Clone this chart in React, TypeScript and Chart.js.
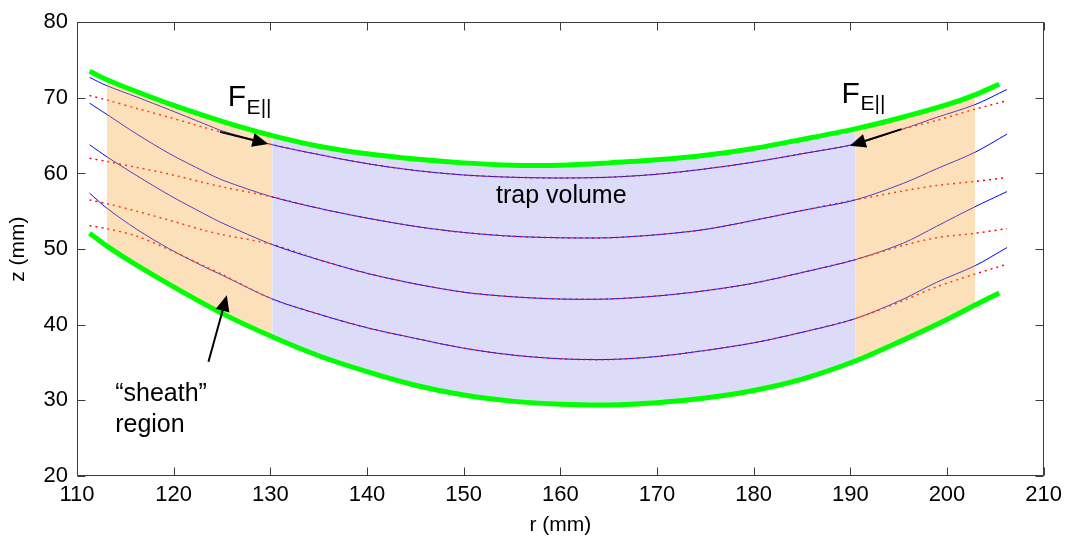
import React, { useEffect, useRef } from "react";
import { Chart, registerables } from "chart.js";

Chart.register(...registerables);

// ---- data (r in mm, z in mm) ----
const greenR = [111.3, 113.1, 116, 120, 125, 130.2, 135, 140, 145, 150, 155, 160, 165, 170, 175, 180, 185, 190.5, 195, 200, 202.9, 205.4];
const upperGreenZ = [73.5, 72.4, 70.9, 69.0, 66.9, 65.0, 63.6, 62.6, 61.9, 61.4, 61.1, 61.1, 61.4, 61.8, 62.4, 63.3, 64.5, 65.9, 67.3, 69.1, 70.4, 71.8];
const lowerGreenZ = [52.1, 50.4, 48.0, 45.0, 41.5, 38.4, 35.9, 33.8, 32.0, 30.7, 29.9, 29.5, 29.4, 29.7, 30.3, 31.3, 32.8, 35.2, 37.7, 40.7, 42.6, 44.2];

const lineR = [111.3, 113.1, 116.2, 119.6, 123.1, 125.1, 130.2, 135, 140, 145, 150, 155, 160, 165, 170, 175, 180, 185, 190.5, 195.5, 198.9, 202.9, 206.2];
const blue1Z = [72.7, 71.6, 70.1, 68.4, 66.6, 65.6, 63.8, 62.5, 61.3, 60.4, 59.8, 59.5, 59.4, 59.5, 59.9, 60.6, 61.5, 62.6, 63.9, 65.9, 67.4, 69.1, 71.1];
const red1Z = [70.3, 69.7, 68.6, 67.4, 66.1, 65.4, 63.8, 62.5, 61.3, 60.4, 59.8, 59.5, 59.4, 59.5, 59.9, 60.6, 61.5, 62.6, 63.9, 65.9, 67.0, 68.5, 69.6];
const blue2Z = [69.3, 67.8, 65.2, 62.6, 60.3, 59.1, 56.9, 55.4, 54.1, 53.0, 52.2, 51.7, 51.5, 51.5, 51.9, 52.6, 53.8, 55.1, 56.5, 58.7, 60.6, 62.8, 65.2];
const red2Z = [62.0, 61.6, 60.8, 59.9, 58.8, 58.2, 56.9, 55.4, 54.1, 53.0, 52.2, 51.7, 51.5, 51.5, 51.9, 52.6, 53.8, 55.1, 56.5, 57.7, 58.4, 58.95, 59.45];
const blue3Z = [63.8, 62.2, 59.7, 57.1, 54.7, 53.4, 50.6, 48.6, 46.8, 45.4, 44.3, 43.7, 43.4, 43.4, 43.8, 44.5, 45.5, 46.9, 48.6, 50.8, 53.0, 55.6, 57.6];
const red3Z = [56.5, 56.0, 55.0, 53.8, 52.5, 51.9, 50.6, 48.6, 46.8, 45.4, 44.3, 43.7, 43.4, 43.4, 43.8, 44.5, 45.5, 46.9, 48.6, 50.5, 51.5, 52.1, 52.7];
const blue4Z = [57.4, 55.4, 52.6, 50.0, 47.7, 46.5, 43.4, 41.4, 39.6, 38.2, 36.9, 36.0, 35.5, 35.4, 35.8, 36.6, 37.6, 39.0, 40.8, 43.4, 45.6, 47.8, 50.2];
const red4Z = [53.1, 52.7, 51.7, 49.9, 47.8, 46.6, 43.4, 41.4, 39.6, 38.2, 36.9, 36.0, 35.5, 35.4, 35.8, 36.6, 37.6, 39.0, 40.8, 43.2, 45.0, 46.7, 48.0];

// region bounds in r (mm)
const sheathLeftRange = [113.1, 130.2];
const trapRange = [130.2, 190.5];
const sheathRightRange = [190.5, 202.9];

// axes
const xMin = 110, xMax = 210, xStep = 10;
const yMin = 20, yMax = 80, yStep = 10;

// ---- styling / annotation placement (not data) ----
const FONT = "'Liberation Sans', Arial, Helvetica, sans-serif";
const ORANGE = "rgba(247, 170, 60, 0.36)";
const LAVENDER = "rgba(80, 80, 220, 0.2)";

const fLabels = [
  { r: 125.6, z: 68.9 },
  { r: 189.1, z: 69.35 },
];
const arrows = [
  { from: [124.8, 65.5], to: [129.8, 63.9] },
  { from: [195.3, 65.86], to: [189.95, 63.67] },
  { from: [123.6, 35.1], to: [125.5, 43.9] },
];
const trapLabel = { r: 160.1, z: 56.05 };
const sheathLabel = { r: 113.95, z1: 29.92, z2: 25.86 };

function pts(r: number[], z: number[]) {
  return r.map((x, i) => ({ x, y: z[i] }));
}
function slice(r: number[], z: number[], range: number[]) {
  return pts(r, z).filter((p) => p.x >= range[0] - 1e-9 && p.x <= range[1] + 1e-9);
}

function drawArrow(ctx: CanvasRenderingContext2D, x0: number, y0: number, x1: number, y1: number) {
  const a = Math.atan2(y1 - y0, x1 - x0);
  const hl = 16, hw = 7;
  const c = Math.cos(a), s = Math.sin(a);
  const bx = x1 - hl * c, by = y1 - hl * s;
  ctx.beginPath();
  ctx.moveTo(x0, y0);
  ctx.lineTo(bx + 2 * c, by + 2 * s);
  ctx.lineWidth = 2;
  ctx.strokeStyle = "#000";
  ctx.stroke();
  ctx.beginPath();
  ctx.moveTo(x1, y1);
  ctx.lineTo(bx + hw * s, by - hw * c);
  ctx.lineTo(bx - hw * s, by + hw * c);
  ctx.closePath();
  ctx.fillStyle = "#000";
  ctx.fill();
}

const annotatePlugin = {
  id: "annotate",
  afterDatasetsDraw(chart: any) {
    const { ctx, scales } = chart;
    const X = (v: number) => scales.x.getPixelForValue(v);
    const Y = (v: number) => scales.y.getPixelForValue(v);
    ctx.save();
    ctx.fillStyle = "#000";
    ctx.textBaseline = "alphabetic";
    for (const f of fLabels) {
      const x = X(f.r), y = Y(f.z);
      ctx.font = `30px ${FONT}`;
      ctx.textAlign = "left";
      ctx.fillText("F", x, y);
      const w = ctx.measureText("F").width;
      ctx.font = `21px ${FONT}`;
      ctx.fillText("E||", x + w + 0.5, y + 7.5);
    }
    for (const a of arrows) {
      drawArrow(ctx, X(a.from[0]), Y(a.from[1]), X(a.to[0]), Y(a.to[1]));
    }
    ctx.font = `25px ${FONT}`;
    ctx.textAlign = "center";
    ctx.fillText("trap volume", X(trapLabel.r), Y(trapLabel.z));
    ctx.textAlign = "left";
    ctx.fillText("\u201Csheath\u201D", X(sheathLabel.r), Y(sheathLabel.z1));
    ctx.fillText("region", X(sheathLabel.r), Y(sheathLabel.z2));
    ctx.restore();
  },
  afterDraw(chart: any) {
    const { ctx, chartArea: ca, scales } = chart;
    ctx.save();
    ctx.strokeStyle = "#3c3c3c";
    ctx.lineWidth = 1;
    const L = Math.round(ca.left) + 0.5, R = Math.round(ca.right) - 0.5;
    const T = Math.round(ca.top) + 0.5, B = Math.round(ca.bottom) - 0.5;
    ctx.strokeRect(L, T, R - L, B - T);
    const tl = 8;
    ctx.beginPath();
    for (const t of scales.x.ticks) {
      const px = Math.round(scales.x.getPixelForValue(t.value)) + 0.5;
      ctx.moveTo(px, B);
      ctx.lineTo(px, B - tl);
      ctx.moveTo(px, T);
      ctx.lineTo(px, T + tl);
    }
    for (const t of scales.y.ticks) {
      const py = Math.round(scales.y.getPixelForValue(t.value)) + 0.5;
      ctx.moveTo(L, py);
      ctx.lineTo(L + tl, py);
      ctx.moveTo(R, py);
      ctx.lineTo(R - tl, py);
    }
    ctx.stroke();
    ctx.restore();
  },
};

export default function App() {
  const ref = useRef<HTMLCanvasElement | null>(null);

  useEffect(() => {
    document.body.style.margin = "0";
    const canvas = ref.current;
    if (!canvas) return;

    const green = (data: any[]) => ({
      data,
      borderColor: "#00ff00",
      borderWidth: 5,
      pointRadius: 0,
      fill: false,
      tension: 0.3,
      order: 0,
    });
    const region = (data: any[], color: string) => ({
      data,
      borderWidth: 0,
      borderColor: "rgba(0,0,0,0)",
      backgroundColor: color,
      pointRadius: 0,
      fill: { target: 1, above: color, below: color },
      tension: 0.3,
      order: 1,
    });
    const red = (z: number[]) => ({
      data: pts(lineR, z),
      borderColor: "#ff0000",
      borderWidth: 1.5,
      borderDash: [2, 4],
      pointRadius: 0,
      fill: false,
      tension: 0.3,
      order: 2,
    });
    const blue = (z: number[]) => ({
      data: pts(lineR, z),
      borderColor: "#0000ff",
      borderWidth: 1,
      pointRadius: 0,
      fill: false,
      tension: 0.3,
      order: 3,
    });

    const chart = new Chart(canvas, {
      type: "line",
      data: {
        datasets: [
          green(pts(greenR, upperGreenZ)),
          green(pts(greenR, lowerGreenZ)),
          region(slice(greenR, upperGreenZ, sheathLeftRange), ORANGE),
          region(slice(greenR, upperGreenZ, trapRange), LAVENDER),
          region(slice(greenR, upperGreenZ, sheathRightRange), ORANGE),
          red(red1Z),
          red(red2Z),
          red(red3Z),
          red(red4Z),
          blue(blue1Z),
          blue(blue2Z),
          blue(blue3Z),
          blue(blue4Z),
        ] as any,
      },
      options: {
        animation: false,
        responsive: false,
        devicePixelRatio: 1,
        layout: { padding: { top: 17, right: 24, left: 0, bottom: 0 } },
        plugins: {
          legend: { display: false },
          tooltip: { enabled: false },
          title: { display: false },
        },
        scales: {
          x: {
            type: "linear",
            min: xMin,
            max: xMax,
            grid: { display: false, drawTicks: false },
            border: { display: false },
            ticks: {
              stepSize: xStep,
              padding: 6,
              color: "#000",
              font: { family: FONT, size: 22 },
              maxRotation: 0,
            },
            title: {
              display: true,
              text: "r (mm)",
              color: "#000",
              font: { family: FONT, size: 21 },
              padding: { top: 0, bottom: 2 },
            },
            afterFit: (s: any) => {
              s.height = 64;
            },
          },
          y: {
            type: "linear",
            min: yMin,
            max: yMax,
            grid: { display: false, drawTicks: false },
            border: { display: false },
            ticks: {
              stepSize: yStep,
              padding: 9,
              color: "#000",
              font: { family: FONT, size: 22 },
            },
            title: {
              display: true,
              text: "z (mm)",
              color: "#000",
              font: { family: FONT, size: 21 },
              padding: { top: 6, bottom: 0 },
            },
            afterFit: (s: any) => {
              s.width = 77;
            },
          },
        },
      } as any,
      plugins: [annotatePlugin],
    });

    return () => chart.destroy();
  }, []);

  return (
    <div style={{ position: "absolute", left: 0, top: 0, width: 1068, height: 540, background: "#fff" }}>
      <canvas ref={ref} width={1068} height={540} />
    </div>
  );
}
